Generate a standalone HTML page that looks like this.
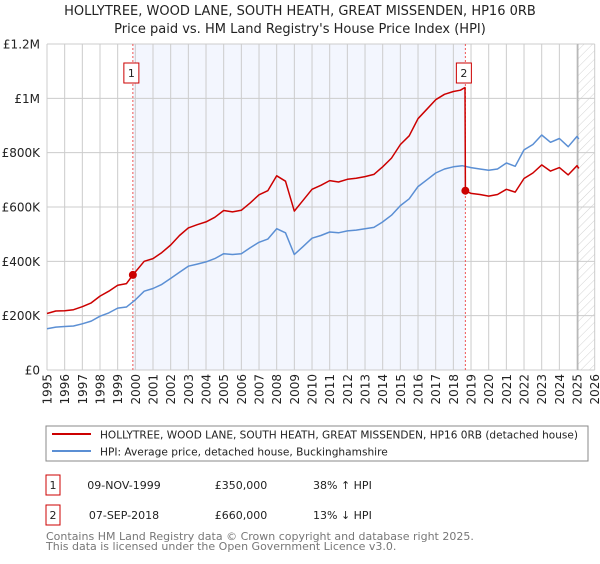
<!DOCTYPE html>
<html><head><meta charset="utf-8"><style>
body{margin:0;background:#fff;width:600px;height:560px;overflow:hidden;font-family:"DejaVu Sans","Liberation Sans",sans-serif;}
svg text{font-family:"DejaVu Sans","Liberation Sans",sans-serif;}
</style></head><body>
<svg id="chart" width="600" height="560" xmlns="http://www.w3.org/2000/svg">
<defs>
<pattern id="hatch" width="6" height="6" patternUnits="userSpaceOnUse" patternTransform="rotate(45)">
<line x1="0" y1="0" x2="0" y2="6" stroke="#c8c8c8" stroke-width="0.8"/></pattern>
</defs>
<text x="300" y="15" text-anchor="middle" font-size="13" fill="#222">HOLLYTREE, WOOD LANE, SOUTH HEATH, GREAT MISSENDEN, HP16 0RB</text>
<text x="300" y="33" text-anchor="middle" font-size="13" fill="#222">Price paid vs. HM Land Registry's House Price Index (HPI)</text>
<g id="plot"></g>
<rect x="46" y="426" width="542" height="35" fill="#fff" stroke="#888"/>
<line x1="52" y1="434" x2="91" y2="434" stroke="#cc0000" stroke-width="2"/>
<text x="100" y="438.5" font-size="10.6" textLength="478" lengthAdjust="spacingAndGlyphs" fill="#222">HOLLYTREE, WOOD LANE, SOUTH HEATH, GREAT MISSENDEN, HP16 0RB (detached house)</text>
<line x1="52" y1="451" x2="91" y2="451" stroke="#5b8fd4" stroke-width="2"/>
<text x="100" y="455.5" font-size="10.6" fill="#222">HPI: Average price, detached house, Buckinghamshire</text>
<rect x="46" y="475" width="14" height="20" fill="#fff" stroke="#cc0000"/>
<text x="53" y="489" text-anchor="middle" font-size="11" fill="#222">1</text>
<text x="124" y="489" text-anchor="middle" font-size="11" fill="#222">09-NOV-1999</text>
<text x="241" y="489" text-anchor="middle" font-size="11" fill="#222">£350,000</text>
<text x="313" y="489" font-size="11" fill="#222">38% ↑ HPI</text>
<rect x="46" y="505" width="14" height="20" fill="#fff" stroke="#cc0000"/>
<text x="53" y="519" text-anchor="middle" font-size="11" fill="#222">2</text>
<text x="124" y="519" text-anchor="middle" font-size="11" fill="#222">07-SEP-2018</text>
<text x="241" y="519" text-anchor="middle" font-size="11" fill="#222">£660,000</text>
<text x="313" y="519" font-size="11" fill="#222">13% ↓ HPI</text>
<text x="46" y="540" font-size="11" fill="#777">Contains HM Land Registry data © Crown copyright and database right 2025.</text>
<text x="46" y="550" font-size="11" fill="#777">This data is licensed under the Open Government Licence v3.0.</text>
</svg>
<script>
const hpiYears=[1995,1995.5,1996,1996.5,1997,1997.5,1998,1998.5,1999,1999.5,2000,2000.5,2001,2001.5,2002,2002.5,2003,2003.5,2004,2004.5,2005,2005.5,2006,2006.5,2007,2007.5,2008,2008.5,2009,2009.5,2010,2010.5,2011,2011.5,2012,2012.5,2013,2013.5,2014,2014.5,2015,2015.5,2016,2016.5,2017,2017.5,2018,2018.5,2019,2019.5,2020,2020.5,2021,2021.5,2022,2022.5,2023,2023.5,2024,2024.5,2025,2025.1];
const hpiValues=[152,158,160,162,170,180,198,210,228,232,258,290,300,315,337,360,382,390,398,410,428,425,428,450,470,482,520,505,425,455,485,495,508,505,512,515,520,525,545,570,605,630,675,700,725,740,748,752,745,740,735,740,762,750,810,830,865,838,852,822,860,850];
const propYears=[1995,1995.5,1996,1996.5,1997,1997.5,1998,1998.5,1999,1999.5,1999.86,2000.5,2001,2001.5,2002,2002.5,2003,2003.5,2004,2004.5,2005,2005.5,2006,2006.5,2007,2007.5,2008,2008.5,2009,2009.5,2010,2010.5,2011,2011.5,2012,2012.5,2013,2013.5,2014,2014.5,2015,2015.5,2016,2016.5,2017,2017.5,2018,2018.4,2018.66,2018.68,2019,2019.5,2020,2020.5,2021,2021.5,2022,2022.5,2023,2023.5,2024,2024.5,2025,2025.1];
const propValues=[208,217,218,222,233,247,272,290,312,318,350,400,410,432,460,495,523,535,545,562,587,582,588,615,645,660,715,695,585,625,665,680,697,692,702,706,712,720,748,780,830,862,925,960,995,1015,1025,1030,1040,660,650,646,640,646,665,655,705,725,755,732,745,718,752,742];
const saleDates=[1999.86,2018.68];
const saleLabels=["1","2"];
const saleValues=[350,660];
const yTicks=[0,200,400,600,800,1000,1200];
const yTickLabels=["£0","£200K","£400K","£600K","£800K","£1M","£1.2M"];
const xTicks=[1995,1996,1997,1998,1999,2000,2001,2002,2003,2004,2005,2006,2007,2008,2009,2010,2011,2012,2013,2014,2015,2016,2017,2018,2019,2020,2021,2022,2023,2024,2025,2026];

const L=47,R=594.7,T=44,B=370;
const X=y=>L+(y-1995)/(2026-1995)*(R-L);
const Y=v=>B-v/1200*(B-T);
const NS="http://www.w3.org/2000/svg";
const g=document.getElementById('plot');
function mk(t,a){const e=document.createElementNS(NS,t);for(const k in a)e.setAttribute(k,a[k]);g.appendChild(e);return e;}
let e;
e=mk('rect',{x:X(saleDates[0]),y:T,width:X(saleDates[1])-X(saleDates[0]),height:B-T,fill:'#f3f6fe'});


e=mk('rect',{x:X(2025.05),y:T,width:R-X(2025.05),height:B-T,fill:'url(#hatch)'});


xTicks.forEach(t=>{
  e=mk('line',{x1:X(t),x2:X(t),y1:T,y2:B,stroke:'#cccccc','stroke-width':1});
  
  
  e=mk('text',{x:0,y:0,'font-size':12,fill:'#222','text-anchor':'end',transform:`translate(${X(t)+4.5},${B+4}) rotate(-90)`});
  e.textContent=t;
  
  
});
yTicks.forEach((t,i)=>{
  e=mk('line',{x1:L,x2:R,y1:Y(t),y2:Y(t),stroke:'#cccccc','stroke-width':1});
  
  
  e=mk('text',{x:40,y:Y(t)+4.5,'font-size':12,fill:'#222','text-anchor':'end'});
  e.textContent=yTickLabels[i];
  
  
});
e=mk('line',{x1:X(2025.05),x2:X(2025.05),y1:T,y2:B,stroke:'#aaa','stroke-width':1});


saleDates.forEach((d,i)=>{
  e=mk('line',{x1:X(d),x2:X(d),y1:T,y2:B,stroke:'#ee5555','stroke-width':1,'stroke-dasharray':'2,2'});
  
  
});
function path(xs,vs,col,name){
  const d=xs.map((x,i)=>(i?'L':'M')+X(x).toFixed(1)+','+Y(vs[i]).toFixed(1)).join('');
  e=mk('path',{d:d,fill:'none',stroke:col,'stroke-width':1.5,'stroke-linejoin':'round'});
  
  
}
path(hpiYears,hpiValues,'#5b8fd4','hpi-line');
path(propYears,propValues,'#cc0000','property-price-line');
saleDates.forEach((d,i)=>{
  e=mk('circle',{cx:X(d),cy:Y(saleValues[i]),r:4,fill:'#cc0000'});
  
  
  e=mk('rect',{x:X(d)-9,y:63,width:15,height:20,fill:'#fff',stroke:'#cc0000'});
  
  
  e=mk('text',{x:X(d)-1.5,y:77,'font-size':11,fill:'#222','text-anchor':'middle'});
  e.textContent=saleLabels[i];
  
  
});
</script>
</body></html>
